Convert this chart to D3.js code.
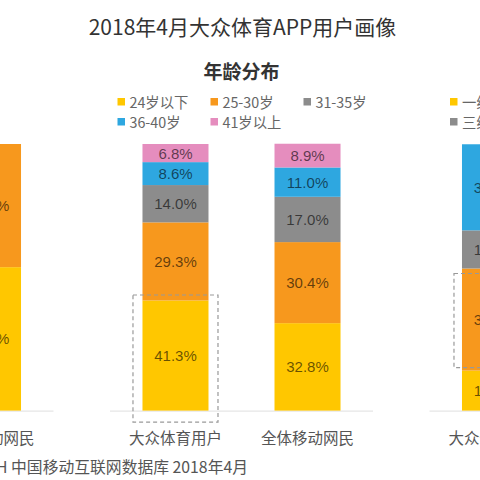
<!DOCTYPE html>
<html><head><meta charset="utf-8">
<script src="https://cdn.jsdelivr.net/npm/d3@7/dist/d3.min.js"></script>
<style>
html,body{margin:0;padding:0;background:#fff;}
svg{display:block;}
</style></head>
<body><svg id="c" width="480" height="480"></svg>
<script>
// ---------- data ----------
const title = "2018年4月大众体育APP用户画像";
const subtitle = "年龄分布";
const source = "数据来源：QuestMobile TRUTH 中国移动互联网数据库 2018年4月";
const categories = ["大众体育用户", "全体移动网民"];

// middle panel: age distribution (bottom -> top)
const ageSeries = ["24岁以下", "25-30岁", "31-35岁", "36-40岁", "41岁以上"];
const ageColors = ["#FFC700", "#F7981D", "#8C8C8C", "#2EA7E0", "#E58DBE"];
const ageSports = [41.3, 29.3, 14.0, 8.6, 6.8];
const ageAll = [32.8, 30.4, 17.0, 11.0, 8.9];

// left panel (partially visible): two series, only the second bar visible
const leftSeries = ["男", "女"];
const leftColors = ["#FFC700", "#F7981D"];
const leftAll = [53.8, 46.2];

// right panel (partially visible): city tiers, only first bar visible
const citySeries = ["一线城市", "二线城市", "三线城市", "四线及以下"];
const cityColors = ["#FFC700", "#F7981D", "#8C8C8C", "#2EA7E0"];
const citySports = [15.0, 38.3, 14.3, 32.3];

// ---------- layout ----------
const svg = d3.select("#c");
const y = d3.scaleLinear().domain([0, 100]).range([410.6, 144]);
const panelShift = 319.5;
function bandFor(offset) {
  return d3.scaleBand().domain(categories)
    .range([110 + offset, 373 + offset]).paddingInner(0.5).paddingOuter(0.246);
}
const fontCJK = "'Noto Sans CJK SC','Noto Sans',sans-serif";

svg.append("text").attr("x", 242.5).attr("y", 26).attr("text-anchor", "middle")
  .attr("dominant-baseline", "central").attr("font-family", fontCJK)
  .attr("font-size", 21).attr("fill", "#333").text(title);
svg.append("text").attr("x", 241.5).attr("y", 70).attr("text-anchor", "middle")
  .attr("dominant-baseline", "central").attr("font-family", fontCJK)
  .attr("font-weight", "bold").attr("font-size", 19).attr("fill", "#333").text(subtitle);

function drawBar(x, cat, values, colors, showLabels) {
  let acc = 0;
  const g = svg.append("g");
  values.forEach((v, i) => {
    const y0 = y(acc), y1 = y(acc + v);
    g.append("rect").attr("x", x(cat)).attr("width", x.bandwidth())
      .attr("y", y1).attr("height", y0 - y1).attr("fill", colors[i]);
    if (showLabels) {
      g.append("text").attr("x", x(cat) + x.bandwidth() / 2).attr("y", (y0 + y1) / 2)
        .attr("text-anchor", "middle").attr("dominant-baseline", "central")
        .attr("font-family", "'Liberation Sans',Arial,sans-serif").attr("font-size", 15)
        .attr("fill", "rgba(0,0,0,0.6)").text(v.toFixed(1) + "%");
    }
    acc += v;
  });
}

function drawPanel(offset, bars, legendItems, legendX, legendCols) {
  const x = bandFor(offset);
  const r = x.range();
  svg.append("line").attr("x1", r[0]).attr("x2", r[1]).attr("y1", y(0) + 0.5).attr("y2", y(0) + 0.5)
    .attr("stroke", "#e6e6e6").attr("stroke-width", 1.2);
  bars.forEach(b => drawBar(x, b.cat, b.values, b.colors, true));
  categories.forEach(c => {
    svg.append("text").attr("x", x(c) + x.bandwidth() / 2).attr("y", 437)
      .attr("text-anchor", "middle").attr("dominant-baseline", "central")
      .attr("font-family", fontCJK).attr("font-size", 15.5).attr("fill", "#555").text(c);
  });
  if (legendItems) {
    legendItems.forEach((it, i) => {
      const col = i % legendCols, row = Math.floor(i / legendCols);
      const lx = legendX + col * 93, ly = 101.5 + row * 20;
      svg.append("rect").attr("x", lx).attr("y", ly - 3.5).attr("width", 7.5).attr("height", 7.5).attr("fill", it.color);
      svg.append("text").attr("x", lx + 12).attr("y", ly).attr("dominant-baseline", "central")
        .attr("font-family", fontCJK).attr("font-size", 14.3).attr("fill", "#666").text(it.name);
    });
  }
  return x;
}

// left panel
drawPanel(-panelShift, [{cat: categories[1], values: leftAll, colors: leftColors}], null);

// middle panel
const xm = drawPanel(0, [
  {cat: categories[0], values: ageSports, colors: ageColors},
  {cat: categories[1], values: ageAll, colors: ageColors}
], ageSeries.map((n, i) => ({name: n, color: ageColors[i]})), 117.5, 3);

// right panel
const xr = drawPanel(panelShift, [{cat: categories[0], values: citySports, colors: cityColors}],
  [0, 2].map(i => ({name: citySeries[i], color: cityColors[i]})), 450, 1);

// dashed highlight boxes
const yTopYellow = y(ageSports[0]);
svg.append("rect").attr("x", xm(categories[0]) - 9.5).attr("y", yTopYellow - 5.5)
  .attr("width", xm.bandwidth() + 19).attr("height", y(0) - yTopYellow + 17)
  .attr("fill", "none").attr("stroke", "#999").attr("stroke-width", 1.2).attr("stroke-dasharray", "4,3");
const rTop = y(citySports[0] + citySports[1]), rBot = y(citySports[0]);
svg.append("rect").attr("x", xr(categories[0]) - 8).attr("y", rTop + 5)
  .attr("width", xr.bandwidth() + 16).attr("height", rBot - rTop - 8)
  .attr("fill", "none").attr("stroke", "#999").attr("stroke-width", 1.2).attr("stroke-dasharray", "4,3");

// source
svg.append("text").attr("x", 248).attr("y", 466).attr("text-anchor", "end")
  .attr("dominant-baseline", "central").attr("font-family", fontCJK)
  .attr("font-size", 15.8).attr("fill", "#555").text(source);
</script></body></html>
